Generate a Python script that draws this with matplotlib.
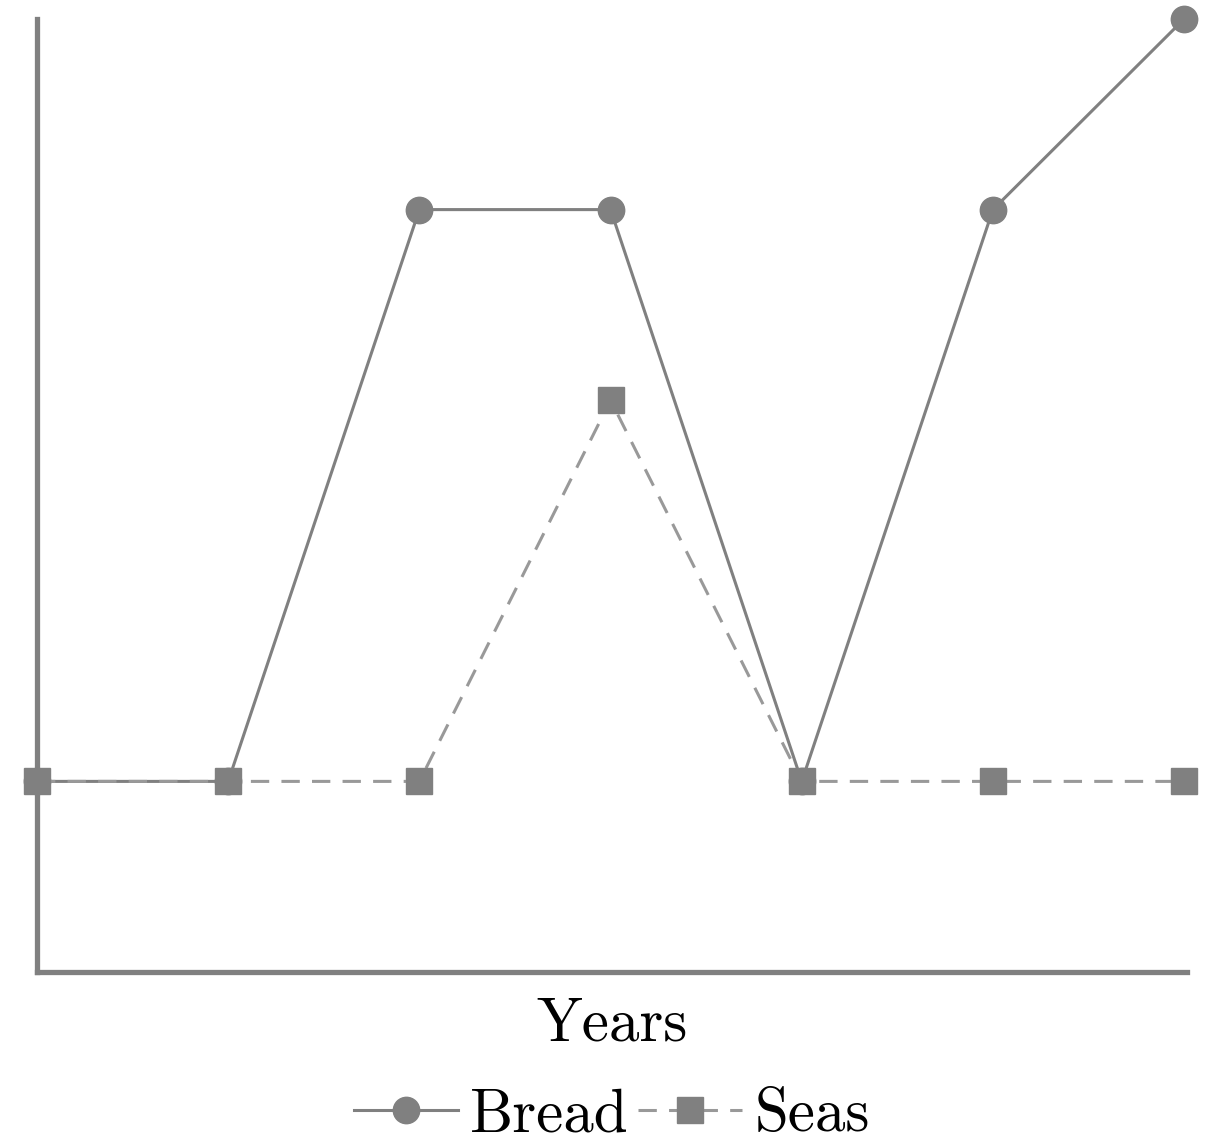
import matplotlib.pyplot as plt

years = [0, 1, 2, 3, 4, 5, 6]
bread = [1, 1, 4, 4, 1, 4, 5]
seas = [1, 1, 1, 3, 1, 1, 1]

plt.rcParams['font.family'] = ['cmr10', 'DejaVu Serif']

fig = plt.figure(figsize=(12.09, 11.46), dpi=100)
ax = fig.add_axes([37/1209, (1146-972)/1146, (1187-37)/1209, (972-19)/1146])

ax.plot(years, bread, color='#808080', lw=2.2, marker='o', ms=19,
        label='Bread', clip_on=False, zorder=3)
ax.plot(years, seas, color='#999999', lw=2.2, ls=(0, (6, 4)), marker='s', ms=19,
        mfc='#808080', mec='#808080', label='Seas', clip_on=False, zorder=4)

ax.set_xlim(0, 6.015)
ax.set_ylim(0, 5)
for s in ['top', 'right']:
    ax.spines[s].set_visible(False)
for s in ['left', 'bottom']:
    ax.spines[s].set_color('#808080')
    ax.spines[s].set_linewidth(3.8)
ax.set_xticks([])
ax.set_yticks([])
ax.set_xlabel('Years', fontsize=44, labelpad=18)

ax.legend(loc='lower center', bbox_to_anchor=(0.5, -0.212), ncol=2, frameon=False,
          fontsize=44, handlelength=1.7, handletextpad=0.2, columnspacing=0.15,
          borderpad=0)

fig.savefig('out.png', dpi=100)
